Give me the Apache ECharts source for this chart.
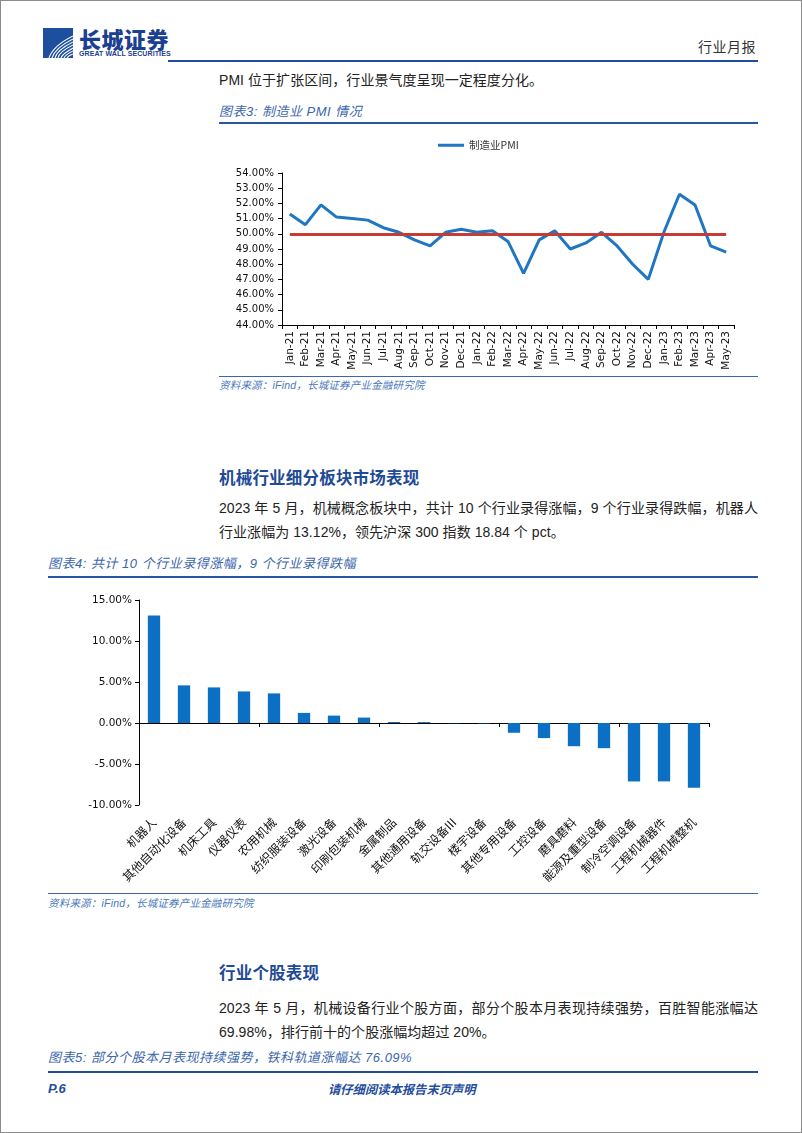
<!DOCTYPE html>
<html>
<head>
<meta charset="utf-8">
<script src="https://cdn.jsdelivr.net/npm/echarts@6/dist/echarts.min.js"></script>
<style>
  html, body { margin: 0; padding: 0; background: #fff; }
  #page { position: relative; width: 802px; height: 1133px; box-sizing: border-box; border: 1px solid #8c8c8c; overflow: hidden;
          font-family: "Liberation Sans", "Noto Sans CJK SC", sans-serif; color: #222; }
  .abs { position: absolute; white-space: nowrap; }
  .hline { position: absolute; background: #2a56a0; }
  .cap { font-style: italic; color: #3a66ab; font-size: 13px; letter-spacing: 0.5px; }
  .src { font-style: italic; color: #4a78b8; font-size: 10.5px; letter-spacing: 0.2px; }
  .head { font-weight: bold; color: #1f4a96; font-size: 16.5px; letter-spacing: 0.2px; }
  .body { font-size: 14px; letter-spacing: 0.05px; }
  .just { text-align: justify; text-align-last: justify; width: 539px; }
</style>
</head>
<body>
<div id="page">
  <!-- header logo -->
  <svg class="abs" style="left:42px;top:27px" width="30" height="30" viewBox="0 0 30 30">
    <rect x="0" y="0" width="30" height="30" fill="#1d4f9f"/>
    <g fill="none" stroke="#fff" stroke-width="1.1">
      <path d="M6 30 Q10 18 30 8"/>
      <path d="M9 30 Q12 20 30 11"/>
      <path d="M12 30 Q14 22 30 14"/>
      <path d="M15 30 Q16 24 30 17"/>
      <path d="M18 30 Q19 26 30 20"/>
      <path d="M21 30 Q22 27 30 23"/>
      <path d="M24 30 Q25 28 30 26"/>
    </g>
  </svg>
  <div class="abs" style="left:78px;top:24px;font-family:'Noto Sans CJK SC';font-weight:900;font-size:22px;color:#1b3f91;letter-spacing:0.5px;line-height:26px">长城证券</div>
  <div class="abs" style="left:78px;top:49px;font-family:'Liberation Sans';font-weight:bold;font-size:7px;color:#1b3f91;line-height:8px;letter-spacing:0.1px">GREAT WALL SECURITIES</div>
  <div class="abs" style="left:697px;top:36px;font-family:'Noto Sans CJK SC';font-size:14px;color:#333;letter-spacing:0.5px;line-height:18px">行业月报</div>
  <div class="hline" style="left:167px;top:59px;width:590px;height:2px;background:#1f4e9c"></div>

  <!-- para PMI -->
  <div class="abs body" style="left:218px;top:69px;line-height:20px">PMI 位于扩张区间，行业景气度呈现一定程度分化。</div>
  <div class="abs cap" style="left:218px;top:102px;line-height:18px">图表3: 制造业 PMI 情况</div>
  <div class="hline" style="left:218px;top:121px;width:539px;height:1.5px"></div>

  <div id="chart1" class="abs" style="left:210px;top:130px;width:550px;height:245px"></div>

  <div class="hline" style="left:218px;top:375px;width:539px;height:1px;background:#3a66ab"></div>
  <div class="abs src" style="left:218px;top:377px;line-height:15px">资料来源：iFind，长城证券产业金融研究院</div>

  <!-- section 2 -->
  <div class="abs head" style="left:218px;top:466px;line-height:22px">机械行业细分板块市场表现</div>
  <div class="abs body just" style="left:218px;top:497px;line-height:20px">2023 年 5 月，机械概念板块中，共计 10 个行业录得涨幅，9 个行业录得跌幅，机器人</div>
  <div class="abs body" style="left:218px;top:521px;line-height:20px">行业涨幅为 13.12%，领先沪深 300 指数 18.84 个 pct。</div>
  <div class="abs cap" style="left:47px;top:554px;line-height:18px">图表4: 共计 10 个行业录得涨幅，9 个行业录得跌幅</div>
  <div class="hline" style="left:47px;top:575px;width:710px;height:1.5px"></div>

  <div id="chart2" class="abs" style="left:40px;top:585px;width:720px;height:305px"></div>

  <div class="hline" style="left:47px;top:892px;width:710px;height:1px;background:#3a66ab"></div>
  <div class="abs src" style="left:47px;top:895px;line-height:15px">资料来源：iFind，长城证券产业金融研究院</div>

  <!-- section 3 -->
  <div class="abs head" style="left:218px;top:961px;line-height:22px">行业个股表现</div>
  <div class="abs body just" style="left:218px;top:997px;line-height:20px">2023 年 5 月，机械设备行业个股方面，部分个股本月表现持续强势，百胜智能涨幅达</div>
  <div class="abs body" style="left:218px;top:1021px;line-height:20px">69.98%，排行前十的个股涨幅均超过 20%。</div>
  <div class="abs cap" style="left:47px;top:1048px;line-height:18px">图表5: 部分个股本月表现持续强势，铁科轨道涨幅达 76.09%</div>
  <div class="hline" style="left:47px;top:1070px;width:710px;height:2px;background:#1f4e9c"></div>
  <div class="abs" style="left:47px;top:1079px;font-size:13px;font-weight:bold;font-style:italic;color:#1f4e9c;line-height:18px">P.6</div>
  <div class="abs" style="left:327px;top:1079px;font-family:'Noto Sans CJK SC';font-size:12.3px;font-weight:bold;font-style:italic;color:#1f4e9c;line-height:18px">请仔细阅读本报告末页声明</div>
</div>

<script>
// ---------- data ----------
const pmiMonths = ['Jan-21','Feb-21','Mar-21','Apr-21','May-21','Jun-21','Jul-21','Aug-21','Sep-21','Oct-21','Nov-21','Dec-21',
  'Jan-22','Feb-22','Mar-22','Apr-22','May-22','Jun-22','Jul-22','Aug-22','Sep-22','Oct-22','Nov-22','Dec-22',
  'Jan-23','Feb-23','Mar-23','Apr-23','May-23'];
const pmiValues = [51.3,50.6,51.9,51.1,51.0,50.9,50.4,50.1,49.6,49.2,50.1,50.3,
  50.1,50.2,49.5,47.4,49.6,50.2,49.0,49.4,50.1,49.2,48.0,47.0,
  50.1,52.6,51.9,49.2,48.8];
const pmiThreshold = 50;
const pmiSeriesName = '制造业PMI';

const sectors = ['机器人','其他自动化设备','机床工具','仪器仪表','农用机械','纺织服装设备','激光设备','印刷包装机械','金属制品',
  '其他通用设备','轨交设备III','楼宇设备','其他专用设备','工控设备','磨具磨料','能源及重型设备','制冷空调设备','工程机械器件','工程机械整机'];
const sectorReturns = [13.12,4.59,4.34,3.85,3.61,1.23,0.90,0.66,0.12,0.11,-0.03,-0.05,-1.19,-1.84,-2.83,-3.07,-7.13,-7.12,-7.91];

const pctFmt = v => v.toFixed(2) + '%';
const axisFont = 'DejaVu Sans';

// ---------- chart 1 ----------
const c1 = echarts.init(document.getElementById('chart1'));
c1.setOption({
  animation: false,
  legend: {
    data: [pmiSeriesName], left: 222, top: 4, icon: 'rect', itemWidth: 26, itemHeight: 3, itemGap: 4,
    textStyle: { fontFamily: 'Noto Sans CJK SC', fontSize: 10.5, color: '#333' }
  },
  grid: { left: 71, top: 42, width: 452, height: 152 },
  xAxis: {
    type: 'category', data: pmiMonths, boundaryGap: true,
    axisLine: { lineStyle: { color: '#000', width: 1 } },
    axisTick: { show: true, length: 4, lineStyle: { color: '#000' } },
    axisLabel: { rotate: 90, interval: 0, margin: 6, fontFamily: axisFont, fontSize: 10.5, color: '#111' },
    splitLine: { show: false }
  },
  yAxis: {
    type: 'value', min: 44, max: 54, interval: 1,
    axisLine: { show: true, lineStyle: { color: '#000', width: 1 } },
    axisTick: { show: true, length: 4, lineStyle: { color: '#000' } },
    axisLabel: { formatter: pctFmt, margin: 8, fontFamily: axisFont, fontSize: 10, color: '#111' },
    splitLine: { show: false }
  },
  series: [
    {
      name: 'threshold', type: 'line', data: [], z: 1, silent: true,
      markLine: {
        symbol: 'none', silent: true, label: { show: false },
        lineStyle: { color: '#C63C35', width: 3, type: 'solid' },
        data: [[{ xAxis: pmiMonths[0], yAxis: pmiThreshold }, { xAxis: pmiMonths[pmiMonths.length - 1], yAxis: pmiThreshold }]]
      }
    },
    {
      name: pmiSeriesName, type: 'line', data: pmiValues, z: 3, symbol: 'none', smooth: false,
      lineStyle: { color: '#1F76C2', width: 3 }, itemStyle: { color: '#1F76C2' }
    }
  ]
});

// ---------- chart 2 ----------
const c2 = echarts.init(document.getElementById('chart2'));
c2.setOption({
  animation: false,
  grid: { left: 98, top: 14, width: 570, height: 205 },
  xAxis: [
    {
      type: 'category', data: sectors, position: 'bottom',
      axisLine: { show: false, onZero: false }, axisTick: { show: false },
      axisLabel: { rotate: 45, interval: 0, margin: 15, fontFamily: 'Noto Sans CJK SC', fontSize: 12, color: '#111' }
    },
    {
      type: 'category', data: sectors, position: 'bottom',
      axisLine: { show: true, onZero: true, lineStyle: { color: '#000', width: 1 } },
      axisTick: { show: true, length: 4, lineStyle: { color: '#000' } },
      axisLabel: { show: false }
    }
  ],
  yAxis: {
    type: 'value', min: -10, max: 15, interval: 5,
    axisLine: { show: true, lineStyle: { color: '#000', width: 1 } },
    axisTick: { show: true, length: 4, lineStyle: { color: '#000' } },
    axisLabel: { formatter: pctFmt, margin: 7, fontFamily: axisFont, fontSize: 10.5, color: '#111' },
    splitLine: { show: false }
  },
  series: [{
    type: 'bar', data: sectorReturns, xAxisIndex: 0, barWidth: '41%',
    itemStyle: { color: '#0B6FC3' }
  }]
});
</script>
</body>
</html>
